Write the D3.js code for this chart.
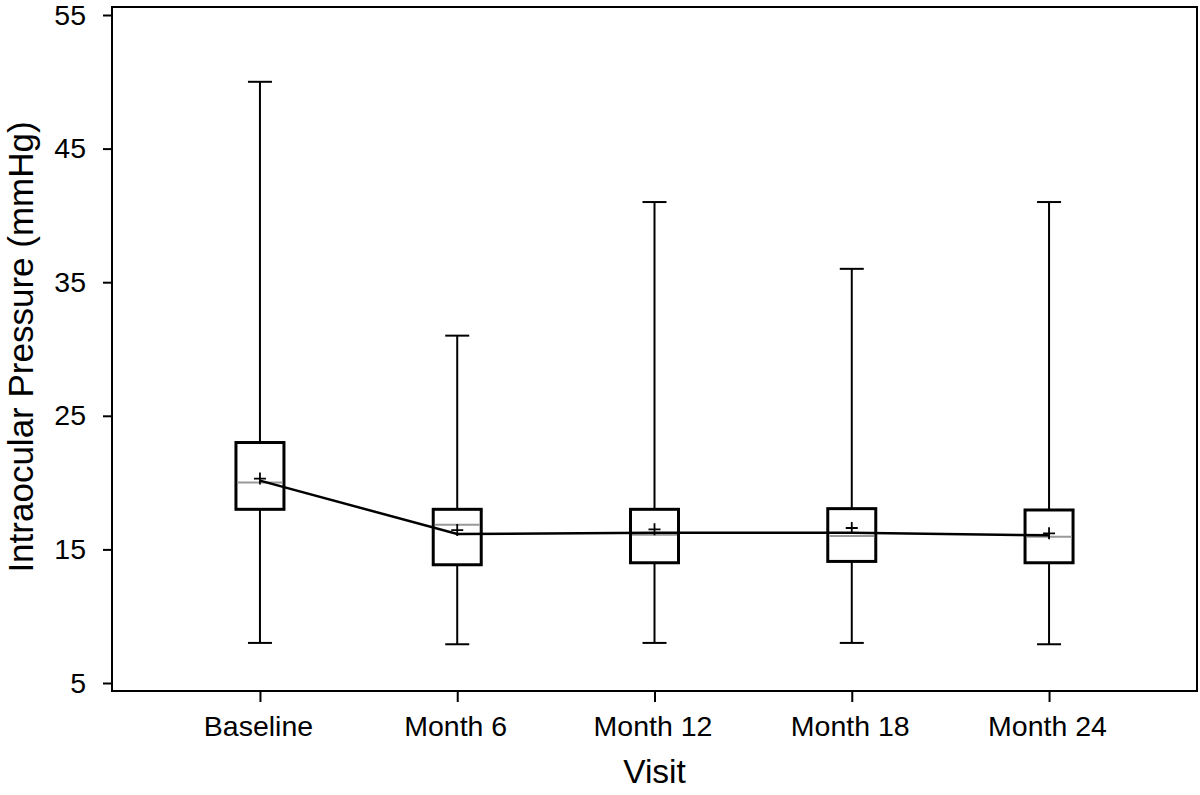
<!DOCTYPE html>
<html><head><meta charset="utf-8">
<script src="https://cdn.jsdelivr.net/npm/d3@7"></script>
<style>html,body{margin:0;padding:0;background:#fff;}svg{display:block;font-family:"Liberation Sans",Arial,Helvetica,sans-serif;}</style>
</head><body>
<svg id="chart" width="1200" height="795"></svg>
<script>
const categories = ["Baseline","Month 6","Month 12","Month 18","Month 24"];
const whiskerLow = [8, 7.9, 8, 8, 7.9];
const q1 = [18, 13.85, 14, 14.1, 14];
const median = [20, 16.85, 16.1, 16, 15.95];
const q3 = [23, 18, 18, 18.05, 17.95];
const whiskerHigh = [50, 31, 41, 36, 41];
const mean = [20.3, 16.45, 16.5, 16.6, 16.2];
const trendLine = [20.15, 16.15, 16.25, 16.25, 16.05];
const yTicks = [5, 15, 25, 35, 45, 55];

const svg = d3.select("#chart");
const L = 112, R = 1197, T = 7, B = 691;
const x = d3.scalePoint().domain(categories).range([L, R]).padding(0.75);
const y = d3.scaleLinear().domain([5, 55]).range([683, 15]);

const data = categories.map((c, i) => ({c, lo: whiskerLow[i], q1: q1[i], med: median[i], q3: q3[i], hi: whiskerHigh[i], mean: mean[i], tl: trendLine[i]}));

// frame
svg.append("rect").attr("x", L).attr("y", T).attr("width", R - L).attr("height", B - T)
  .attr("fill", "none").attr("stroke", "#000").attr("stroke-width", 2);

// y axis
const yAxis = svg.append("g").attr("transform", `translate(${L},0)`)
  .call(d3.axisLeft(y).tickValues(yTicks).tickSize(9).tickPadding(17));
yAxis.select(".domain").remove();
yAxis.selectAll("line").attr("stroke", "#000").attr("stroke-width", 2);
yAxis.selectAll("text").attr("font-size", 28.5).attr("fill", "#000").attr("font-family", "Liberation Sans, Arial, sans-serif");

// x axis
const xAxis = svg.append("g").attr("transform", `translate(0,${B})`)
  .call(d3.axisBottom(x).tickSize(11).tickPadding(14));
xAxis.select(".domain").remove();
xAxis.selectAll("line").attr("stroke", "#000").attr("stroke-width", 2);
xAxis.selectAll("text").attr("font-size", 28.5).attr("fill", "#000").attr("font-family", "Liberation Sans, Arial, sans-serif")
  .attr("dx", -2);

// titles
svg.append("text").attr("x", (L + R) / 2).attr("y", 783).attr("text-anchor", "middle")
  .attr("font-size", 33.5).attr("fill", "#000").text("Visit");
svg.append("text").attr("transform", `translate(33,${(T + B) / 2 - 2}) rotate(-90)`).attr("text-anchor", "middle")
  .attr("font-size", 35).attr("fill", "#000").text("Intraocular Pressure (mmHg)");

const g = svg.append("g");
const bw = 48, cap = 24;
data.forEach(d => {
  const cx = x(d.c);
  // whiskers
  g.append("line").attr("x1", cx).attr("x2", cx).attr("y1", y(d.hi)).attr("y2", y(d.q3)).attr("stroke", "#000").attr("stroke-width", 2);
  g.append("line").attr("x1", cx).attr("x2", cx).attr("y1", y(d.q1)).attr("y2", y(d.lo)).attr("stroke", "#000").attr("stroke-width", 2);
  g.append("line").attr("x1", cx - cap / 2).attr("x2", cx + cap / 2).attr("y1", y(d.hi)).attr("y2", y(d.hi)).attr("stroke", "#000").attr("stroke-width", 2);
  g.append("line").attr("x1", cx - cap / 2).attr("x2", cx + cap / 2).attr("y1", y(d.lo)).attr("y2", y(d.lo)).attr("stroke", "#000").attr("stroke-width", 2);
  // box
  g.append("rect").attr("x", cx - bw / 2).attr("y", y(d.q3)).attr("width", bw).attr("height", y(d.q1) - y(d.q3))
    .attr("fill", "#fff").attr("stroke", "#000").attr("stroke-width", 3);
  // median
  g.append("line").attr("x1", cx - bw / 2 + 1.5).attr("x2", cx + bw / 2 - 1.5).attr("y1", y(d.med)).attr("y2", y(d.med))
    .attr("stroke", "#999").attr("stroke-width", 2);
});

// trend line
g.append("path").datum(data).attr("fill", "none").attr("stroke", "#000").attr("stroke-width", 2.5)
  .attr("d", d3.line().x(d => x(d.c)).y(d => y(d.tl)));

// mean markers
data.forEach(d => {
  const cx = x(d.c), cy = y(d.mean);
  g.append("path").attr("d", `M${cx - 6},${cy}H${cx + 6}M${cx},${cy - 6}V${cy + 6}`)
    .attr("stroke", "#000").attr("stroke-width", 1.8).attr("fill", "none");
});
</script>
</body></html>
